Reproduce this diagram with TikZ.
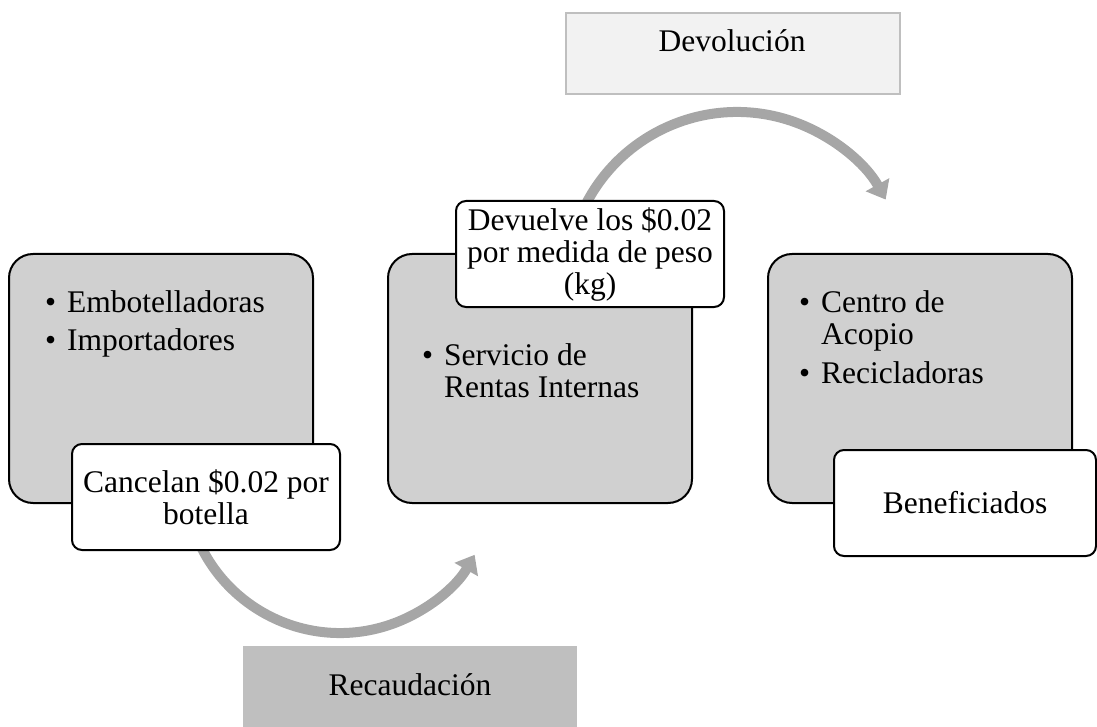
\documentclass[tikz,border=0pt]{standalone}
\usepackage{fontspec}
\setmainfont{Liberation Serif}
\usetikzlibrary{arrows.meta,positioning,calc}
\definecolor{boxgray}{HTML}{D0D0D0}
\definecolor{arcgray}{HTML}{A6A6A6}
\definecolor{midgray}{HTML}{BFBFBF}
\definecolor{palegray}{HTML}{F2F2F2}
\newcommand{\bul}{\spaceskip=0pt\xspaceskip=0pt\hangindent=22pt\hangafter=1\noindent\makebox[22pt][l]{\textbullet}}

\begin{document}
\begin{tikzpicture}[x=1pt,y=-1pt,
			font=\fontsize{31.5}{32}\selectfont,
			entity/.style={draw=black,line width=2pt,fill=boxgray,rounded corners=24pt,minimum width=304pt,minimum height=249pt,anchor=north west,inner sep=0pt},
			tag/.style={draw=black,line width=2pt,fill=white,rounded corners=10pt,minimum width=268pt,minimum height=106pt,anchor=north west,align=center,inner sep=0pt},
			list/.style={anchor=north west,text width=262pt,inner sep=0pt},
			band/.style={minimum width=334pt,minimum height=81pt,anchor=north west,line width=2pt,inner sep=0pt},
			arcflow/.style={arcgray,line width=10pt,-{Triangle[length=17pt,width=26pt]}}
			]
			\useasboundingbox (0,0) rectangle (1097,727);
			\node[entity] (prod) at (8,253) {};
			\node[entity] (sri) at (387,253) {};
			\node[entity] (reci) at (767,253) {};
			\node[list] (prodlist) at (45,290.5) {\bul Embotelladoras\par\vspace{6pt}\bul Importadores\par};
			\node[list] (srilist) at (422,343.5) {\bul Servicio de\newline Rentas Internas\par};
			\node[list] (recilist) at (799,290.5) {\bul Centro de\newline Acopio\par\vspace{7pt}\bul Recicladoras\par};
			% arcos de flujo
			\coordinate (lowc) at (340,478);
			\coordinate (upc) at (737,282);
			\draw[arcflow] ([shift={(200:155pt)}]lowc) arc[start angle=200,end angle=330.3,radius=155pt];
			\draw[arcflow] ([shift={(160:170pt)}]upc) arc[start angle=160,end angle=29,radius=170pt];
			\node[tag] (cancel) at (71,443) {Cancelan \$0.02 por\\ botella};
			\node[tag] (devuelve) at (455,200) {Devuelve los \$0.02\\ por medida de peso\\ (kg)};
			\node[tag,minimum width=262pt] (benlab) at (833,449) {Beneficiados};
			\node[band,fill=midgray] (recaud) at (242,645) {};
			\node[anchor=base] (recaudtxt) at (410,695) {Recaudación};
			\node[band,fill=palegray,draw=midgray] (devol) at (565,12) {};
			\node[anchor=base] (devoltxt) at (732,52) {Devolución};
		\end{tikzpicture}
\end{document}
